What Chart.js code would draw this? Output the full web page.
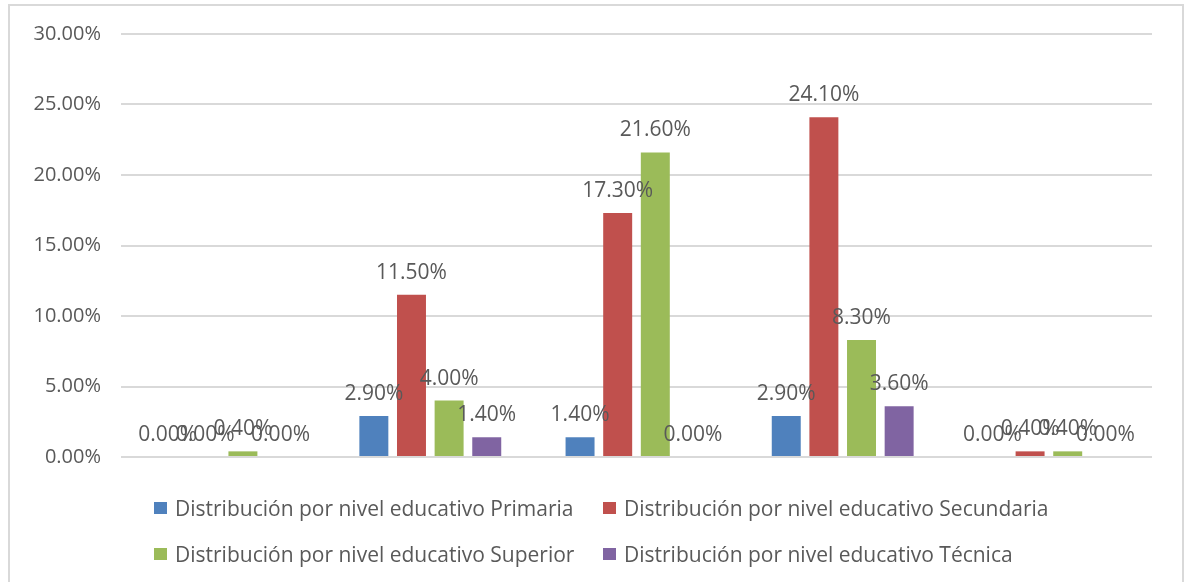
<!DOCTYPE html>
<html>
<head>
<meta charset="utf-8">
<script src="https://cdn.jsdelivr.net/npm/chart.js@4.4.0/dist/chart.umd.min.js"></script>
<style>
    body { margin: 0; background: #fff; font-family: "Open Sans", sans-serif; }
    #frame { position: absolute; left: 8px; top: 4px; width: 1172px; height: 600px;
             border: 2px solid #d9d9d9; border-bottom: none; }
    #chartBox { position: absolute; left: 8px; top: 2px; width: 1174px; height: 487px; }
    #legend { position: absolute; left: 154px; top: 485px; display: grid;
              grid-template-columns: 449px auto; grid-auto-rows: 46px;
              color: #595959; font-size: 21px; }
    .item { display: flex; align-items: center; white-space: nowrap; }
    .box { width: 13px; height: 12px; margin-right: 8px; }
</style>
</head>
<body>
<div id="frame"></div>
<div id="chartBox"><canvas id="eduChart"></canvas></div>
<div id="legend"></div>
<script>
    var groups = ['', '', '', '', ''];
    var seriesNames = [
        'Distribución por nivel educativo Primaria',
        'Distribución por nivel educativo Secundaria',
        'Distribución por nivel educativo Superior',
        'Distribución por nivel educativo Técnica'
    ];
    var primaria = [0.0, 2.9, 1.4, 2.9, 0.0];
    var secundaria = [0.0, 11.5, 17.3, 24.1, 0.4];
    var superior = [0.4, 4.0, 21.6, 8.3, 0.4];
    var tecnica = [0.0, 1.4, 0.0, 3.6, 0.0];
    var colors = ['#4f81bd', '#c0504d', '#9bbb59', '#8064a2'];
    var yTicks = [0, 5, 10, 15, 20, 25, 30];

    var allSeries = [primaria, secundaria, superior, tecnica];

    var valueLabels = {
        id: 'valueLabels',
        afterDatasetsDraw: function (chart) {
            var ctx = chart.ctx;
            ctx.save();
            ctx.font = '21px "Open Sans"';
            ctx.fillStyle = '#595959';
            ctx.textAlign = 'center';
            ctx.textBaseline = 'alphabetic';
            chart.data.datasets.forEach(function (ds, i) {
                var meta = chart.getDatasetMeta(i);
                meta.data.forEach(function (bar, j) {
                    ctx.fillText(ds.data[j].toFixed(2) + '%', bar.x, bar.y - 16);
                });
            });
            ctx.restore();
        }
    };

    var datasets = allSeries.map(function (vals, i) {
        return {
            label: seriesNames[i],
            data: vals,
            backgroundColor: colors[i],
            categoryPercentage: 0.73,
            barPercentage: 0.77
        };
    });

    var ctx = document.getElementById('eduChart').getContext('2d');
    var chart = new Chart(ctx, {
        type: 'bar',
        data: { labels: groups, datasets: datasets },
        options: {
            responsive: true,
            maintainAspectRatio: false,
            animation: false,
            layout: { padding: { top: 26, right: 30, bottom: 18, left: 0 } },
            plugins: {
                legend: { display: false },
                tooltip: { enabled: false }
            },
            scales: {
                x: { display: false },
                y: {
                    min: 0,
                    max: 30,
                    afterBuildTicks: function (scale) {
                        scale.ticks = yTicks.map(function (v) { return { value: v }; });
                    },
                    afterFit: function (scale) { scale.width = 113; },
                    border: { display: false },
                    grid: { color: '#d9d9d9', lineWidth: 2, drawTicks: false },
                    ticks: {
                        padding: 20,
                        color: '#595959',
                        font: { family: 'Open Sans', size: 20 },
                        callback: function (v) { return v.toFixed(2) + '%'; }
                    }
                }
            }
        },
        plugins: [valueLabels]
    });

    var legend = document.getElementById('legend');
    seriesNames.forEach(function (name, i) {
        var item = document.createElement('div');
        item.className = 'item';
        item.innerHTML = '<span class="box" style="background:' + colors[i] + '"></span>' + name;
        legend.appendChild(item);
    });
</script>
</body>
</html>
